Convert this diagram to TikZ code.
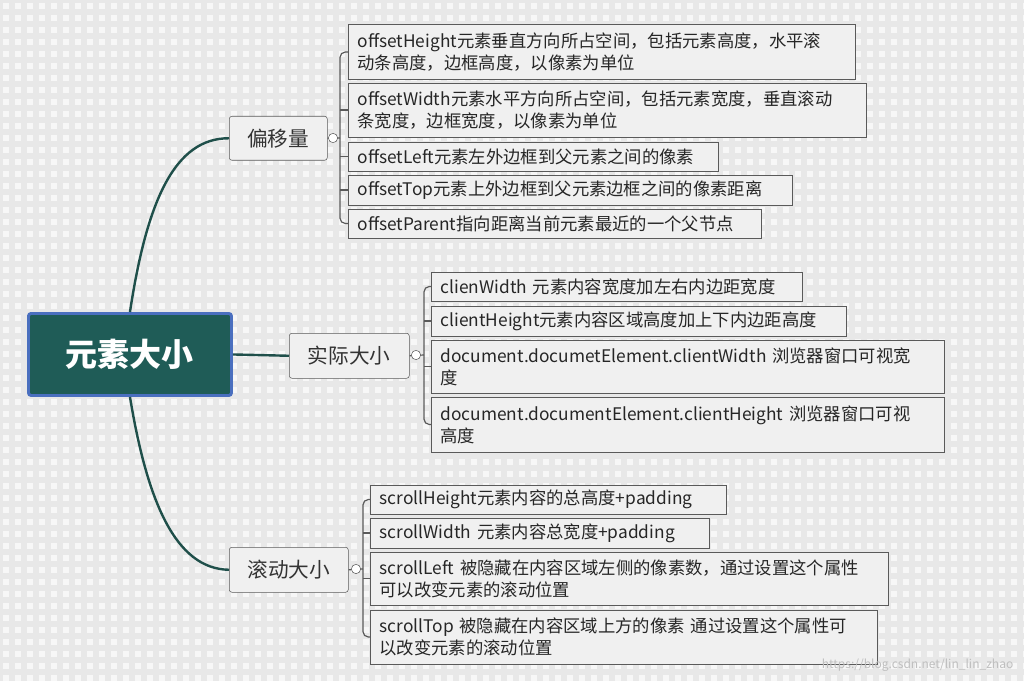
\documentclass[tikz,border=0pt]{standalone}
\usepackage{fontspec}
\setmainfont{Noto Sans CJK SC}
\usetikzlibrary{positioning}
\definecolor{rootfill}{HTML}{1F5C57}
\definecolor{rootline}{HTML}{4A6FBF}
\definecolor{boxfill}{HTML}{F0F0F0}
\definecolor{boxline}{HTML}{5A5A5A}
\definecolor{linkc}{HTML}{1F4F4A}
\definecolor{plaid}{HTML}{E8E8E8}

\begin{document}
\begin{tikzpicture}[x=0.75pt, y=-0.75pt,
    root/.style={draw=rootline, line width=2.2pt, fill=rootfill, text=white, font=\bfseries\fontsize{24}{28}\selectfont, rounded corners=2pt, anchor=north west, inner sep=0pt},
    branch/.style={draw=boxline, fill=boxfill, font=\fontsize{15.5}{18}\selectfont, text=black!80, rounded corners=2pt, anchor=north west, inner sep=0pt},
    leaf/.style={draw=boxline, fill=boxfill, font=\fontsize{13}{16.5}\selectfont, text=black!85, anchor=west, align=left, inner xsep=7pt, inner ysep=2pt,
        minimum width={#1*0.75pt}, text width={#1*0.75pt-14pt}},
    link/.style={draw=linkc, line width=1.8pt},
    tie/.style={draw=boxline, line width=0.9pt},
    knob/.style={circle, draw=boxline, fill=white, inner sep=0pt, minimum size=7pt}
]
    % background
    \useasboundingbox (0,0) rectangle (1024,681);
    \fill[white!97!black] (0,0) rectangle (1024,681);
    \draw[plaid, line width=4.5pt, step=9pt] (0,0) grid (1024,681);

    % main nodes
    \node[root, minimum width={203*0.75pt}, minimum height={82*0.75pt}] (R) at (27,312) {元素大小};
    \node[branch, minimum width={98*0.75pt}, minimum height={44*0.75pt}] (B1) at (229,116) {偏移量};
    \node[branch, minimum width={120*0.75pt}, minimum height={45*0.75pt}] (B2) at (289,333) {实际大小};
    \node[branch, minimum width={119*0.75pt}, minimum height={45*0.75pt}] (B3) at (229,547) {滚动大小};

    \draw[link] (R.north) .. controls (147,200) and (175,138) .. (B1.west);
    \draw[link] (R.east) -- (B2.west);
    \draw[link] (R.south) .. controls (147,500) and (175,569) .. (B3.west);

    % offset group
    \node[leaf=507, minimum height={55*0.75pt}] (L11) at (348,52) {offsetHeight元素垂直方向所占空间，包括元素高度，水平滚\\动条高度，边框高度，以像素为单位};
    \node[leaf=518, minimum height={54*0.75pt}] (L12) at (348,110) {offsetWidth元素水平方向所占空间，包括元素宽度，垂直滚动\\条宽度，边框宽度，以像素为单位};
    \node[leaf=370, minimum height={29*0.75pt}] (L13) at (348,156.5) {offsetLeft元素左外边框到父元素之间的像素};
    \node[leaf=444, minimum height={30*0.75pt}] (L14) at (348,190) {offsetTop元素上外边框到父元素边框之间的像素距离};
    \node[leaf=413, minimum height={29*0.75pt}] (L15) at (348,223.5) {offsetParent指向距离当前元素最近的一个父节点};

    % client group
    \node[leaf=371, minimum height={29*0.75pt}] (L21) at (431,286.5) {clienWidth 元素内容宽度加左右内边距宽度};
    \node[leaf=415, minimum height={30*0.75pt}] (L22) at (431,321) {clientHeight元素内容区域高度加上下内边距高度};
    \node[leaf=513, minimum height={53*0.75pt}] (L23) at (431,366.5) {document.documetElement.clientWidth 浏览器窗口可视宽\\度};
    \node[leaf=513, minimum height={55*0.75pt}] (L24) at (431,424.5) {document.documentElement.clientHeight 浏览器窗口可视\\高度};

    % scroll group
    \node[leaf=356, minimum height={29*0.75pt}] (L31) at (370,499.5) {scrollHeight元素内容的总高度+padding};
    \node[leaf=339, minimum height={30*0.75pt}] (L32) at (370,533) {scrollWidth 元素内容总宽度+padding};
    \node[leaf=518, minimum height={53*0.75pt}] (L33) at (370,578.5) {scrollLeft 被隐藏在内容区域左侧的像素数，通过设置这个属性\\可以改变元素的滚动位置};
    \node[leaf=507, minimum height={54*0.75pt}] (L34) at (370,637) {scrollTop 被隐藏在内容区域上方的像素 通过设置这个属性可\\以改变元素的滚动位置};

    % ties
    \draw[tie] (B1.east) -- (340,138);
    \draw[tie, rounded corners=4pt] (L11.west) -| (340,138) |- (L15.west);
    \foreach \n in {L12,L13,L14} \draw[tie] (340,0 |- \n.west) -- (\n.west);
    \node[knob] (K1) at (333,138) {};

    \draw[tie] (B2.east) -- (424,355);
    \draw[tie, rounded corners=4pt] (L21.west) -| (424,355) |- (L24.west);
    \foreach \n in {L22,L23} \draw[tie] (424,0 |- \n.west) -- (\n.west);
    \node[knob] (K2) at (416,355) {};

    \draw[tie] (B3.east) -- (363,569);
    \draw[tie, rounded corners=4pt] (L31.west) -| (363,569) |- (L34.west);
    \foreach \n in {L32,L33} \draw[tie] (363,0 |- \n.west) -- (\n.west);
    \node[knob] (K3) at (356,569) {};

    % watermark
    \node[text=black!25, font=\fontsize{9}{11}\selectfont, anchor=south east] (W) at (1018,676) {https://blog.csdn.net/lin\_lin\_zhao};
\end{tikzpicture}
\end{document}
